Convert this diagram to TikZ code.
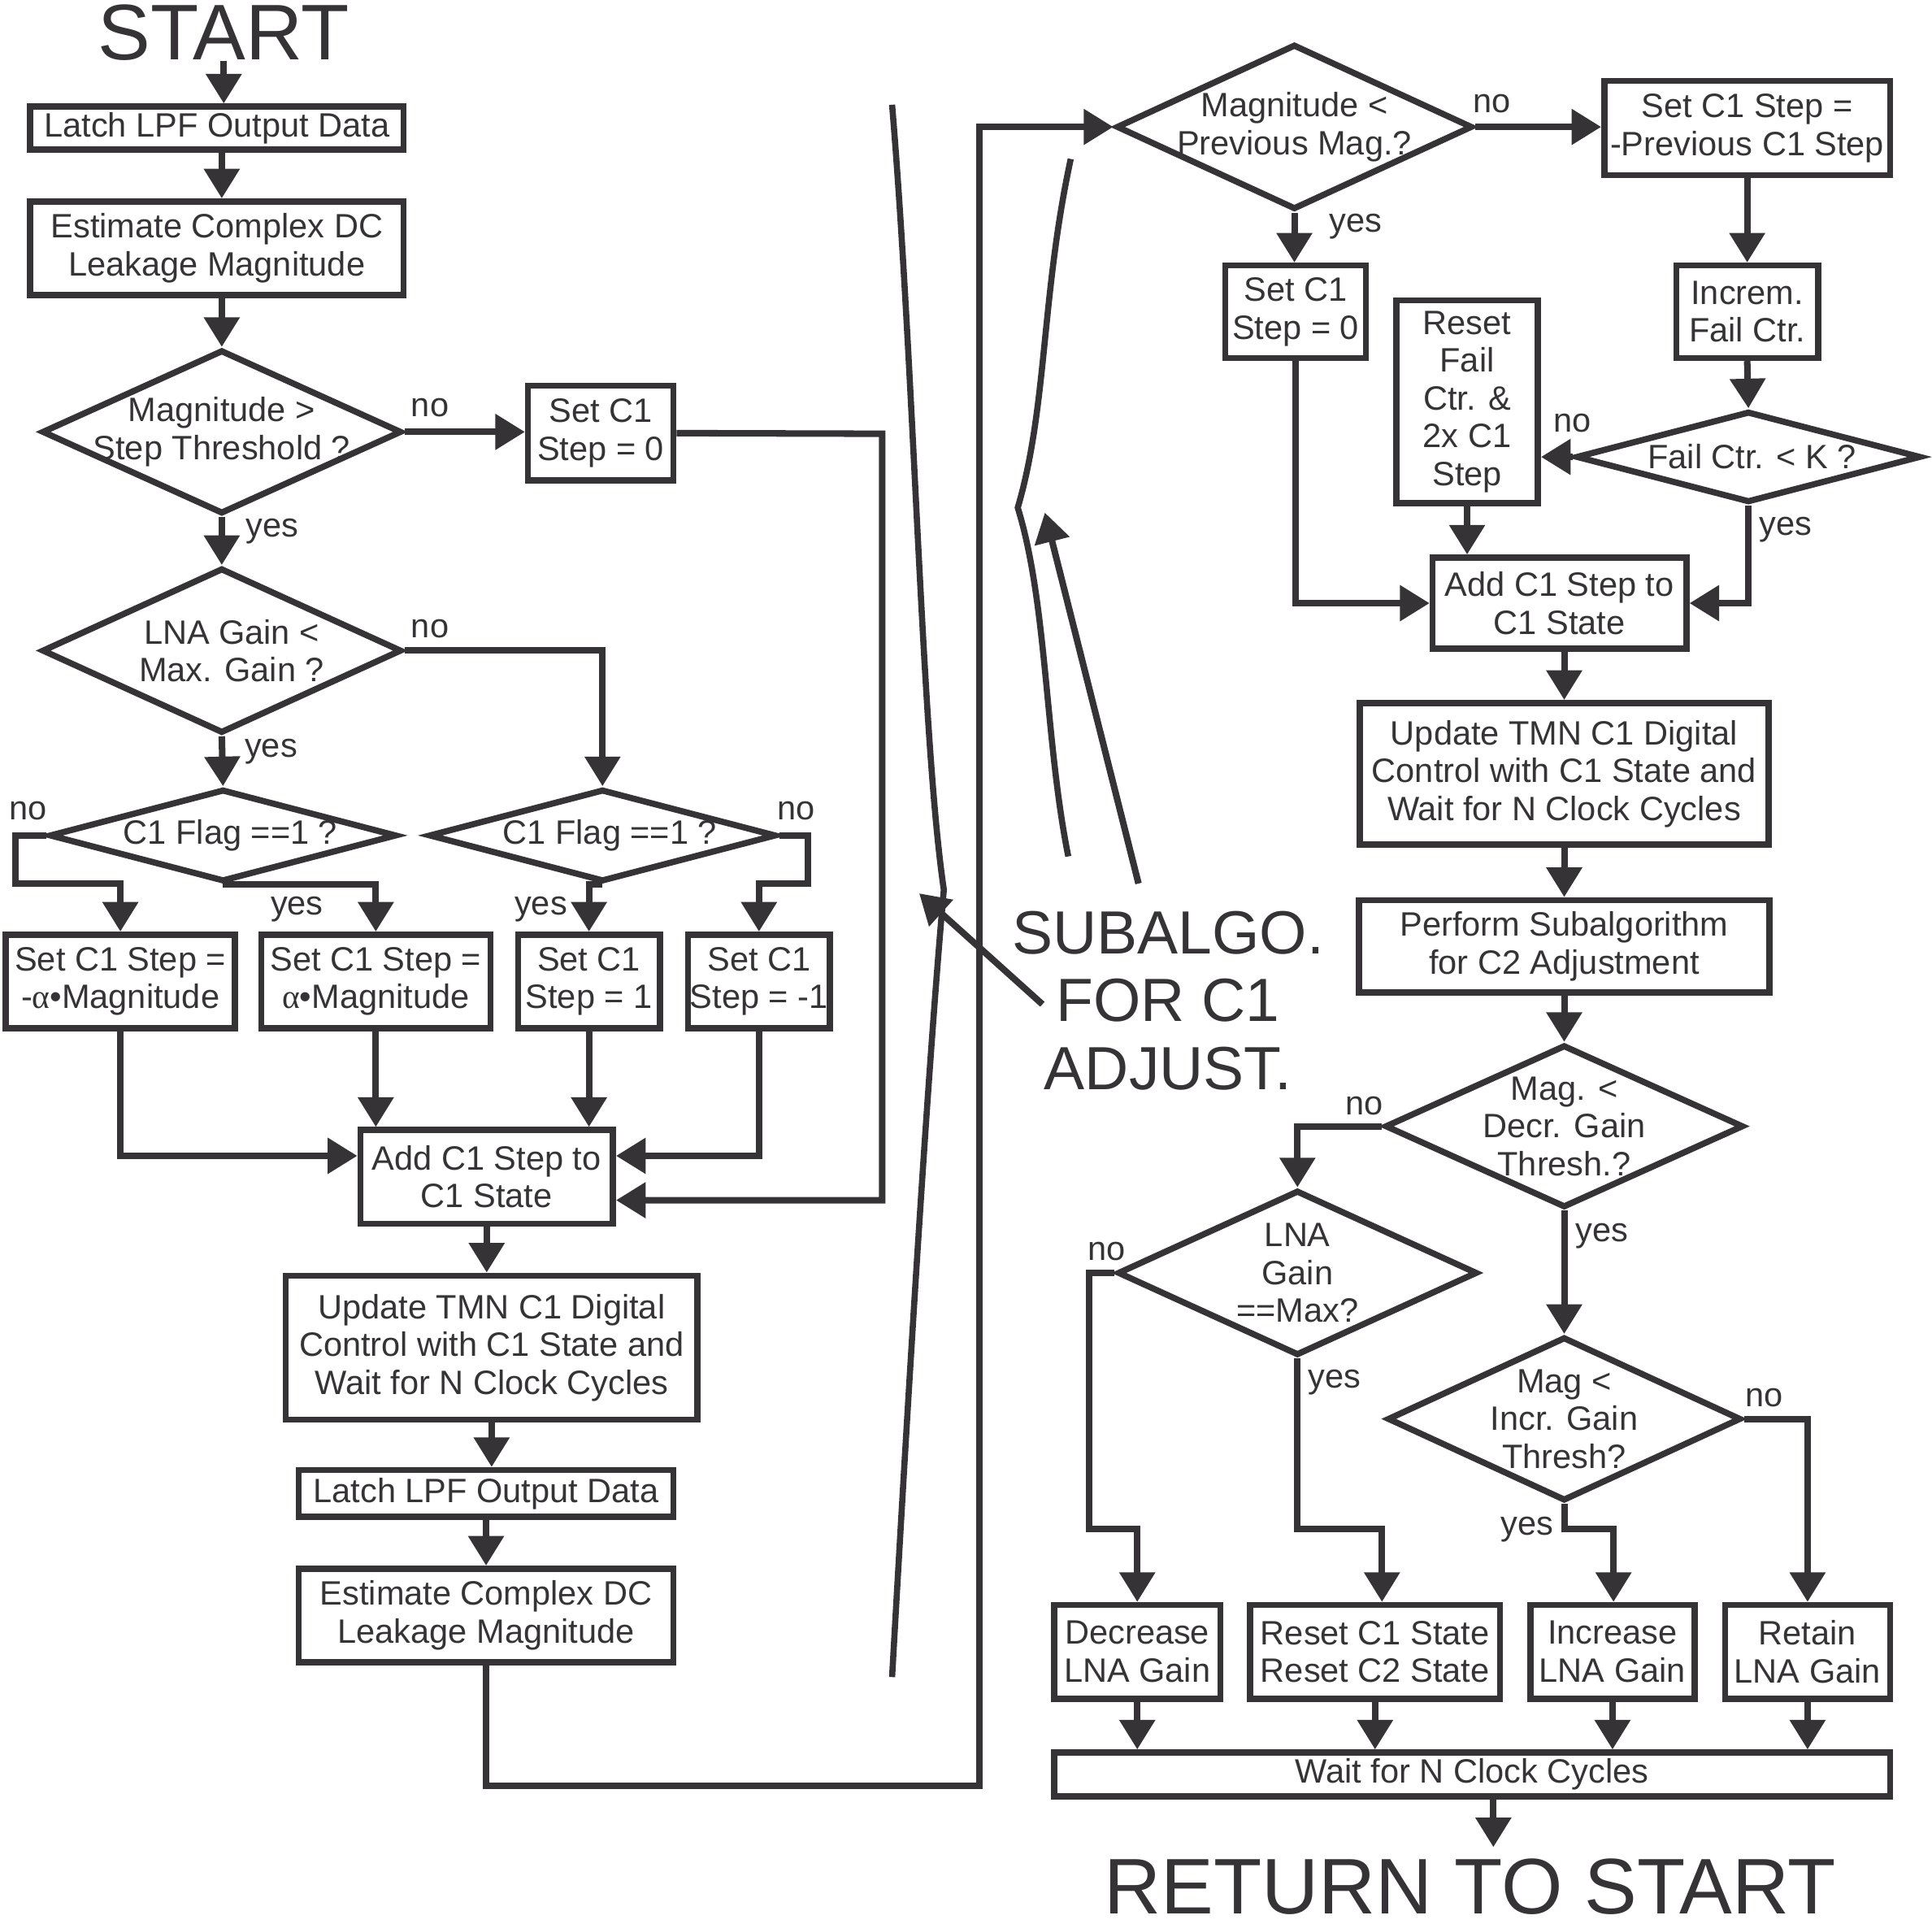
\documentclass[tikz,border=0pt]{standalone}
\usepackage{fontspec}
\setmainfont{Liberation Sans}
\newfontfamily\grk{Liberation Serif}
\usetikzlibrary{shapes.geometric,arrows.meta}
\definecolor{ink}{RGB}{53,51,53}
\tikzset{>={Triangle[length=24pt,width=28pt]}}
\tikzset{
  box/.style={draw,line width=5pt,inner sep=0pt,align=center,font=\fontsize{27.4}{30.7}\selectfont},
  sz/.style 2 args={minimum width=#1pt,minimum height=#2pt},
  decision/.style={draw,diamond,line width=5pt,inner sep=0pt},
  txt/.style={inner sep=0pt,align=center,font=\fontsize{27.4}{30.7}\selectfont},
  big/.style={inner sep=0pt,align=center,font=\fontsize{64}{70}\selectfont},
  note/.style={inner sep=0pt,align=center,font=\fontsize{49.5}{55}\selectfont},
  link/.style={line width=5.3pt,->},
  brace/.style={line width=5pt},
}

\begin{document}
\begin{tikzpicture}[x=1pt,y=-1pt,color=ink]
\useasboundingbox (0,0) rectangle (1568,1561);
\node[big] (start) at (181.6,26.5) {START};
\node[box,sz={303}{35}] (L1) at (176,104) {Latch LPF Output Data};
\node[box,sz={303}{76}] (L2) at (176,201.5) {Estimate Complex DC\\Leakage Magnitude};
\node[decision,sz={292}{133}] (d1) at (180,350.5) {};
\node[txt] (t1) at (d1) {Magnitude >\\Step Threshold ?};
\node[box,sz={118}{77}] (s0) at (487.5,351.5) {Set C1\\Step = 0};
\node[decision,sz={292}{134}] (d2) at (180,528) {};
\node[txt] (t2) at (188,528) {LNA Gain <\\Max. Gain ?};
\node[decision,sz={282}{75}] (d3) at (181,678) {};
\node[txt] (t3) at (187,678) {C1 Flag ==1 ?};
\node[decision,sz={282}{75}] (d4) at (489,678) {};
\node[txt] (t4) at (495,678) {C1 Flag ==1 ?};
\node[box,sz={186}{76}] (b1) at (97.7,796.5) {Set C1 Step =\\-{\grk α}•Magnitude};
\node[box,sz={186}{76}] (b2) at (305,796.5) {Set C1 Step =\\{\grk α}•Magnitude};
\node[box,sz={115}{76}] (b3) at (478,796.5) {Set C1\\Step = 1};
\node[box,sz={115}{76}] (b4) at (616,796.5) {Set C1\\Step = -1};
\node[box,sz={205}{76}] (a1) at (395,955) {Add C1 Step to\\C1 State};
\node[box,sz={334}{117}] (u1) at (399,1093.7) {Update TMN C1 Digital\\Control with C1 State and\\Wait for N Clock Cycles};
\node[box,sz={304}{38}] (L3) at (394.5,1212) {Latch LPF Output Data};
\node[box,sz={304}{76}] (L4) at (394.5,1311) {Estimate Complex DC\\Leakage Magnitude};
\node[txt] (n1) at (349,331) {no};
\node[txt] (y1) at (221,431) {yes};
\node[txt] (n2) at (349,510) {no};
\node[txt] (y2) at (220,610) {yes};
\node[txt] (n3) at (23,658) {no};
\node[txt] (y3) at (241,738) {yes};
\node[txt] (y4) at (439,738) {yes};
\node[txt] (n4) at (646,658) {no};
\coordinate (k1) at (716,352);
\coordinate (k2) at (795,1449);
\coordinate (k3) at (12.6,717);
\coordinate (k4) at (656,717);
\draw[link] (start.south) -- (start.south |- L1.north);
\draw[link] (d1.north |- L1.south) -- (d1.north |- L2.north);
\draw[link] (d1.north |- L2.south) -- (d1.north);
\draw[link] (d1.east) -- (d1.east -| s0.west);
\draw[link] (s0.east) -- (k1) |- ([yshift=-19pt]a1.east);
\draw[link] (d1.south) -- (d2.north);
\draw[link] (d2.east) -| (d4.north);
\draw[link] (d2.south) -- (d3.north);
\draw[link] (d3.west) -| (k3) -| (b1.north);
\draw[link] (d3.south) -| (b2.north);
\draw[link] (d4.south) -| (b3.north);
\draw[link] (d4.east) -| (k4) -| (b4.north);
\draw[link] (b1.south) |- ([yshift=17pt]a1.west);
\draw[link] (b2.south) -- (b2.south |- a1.north);
\draw[link] (b3.south) -- (b3.south |- a1.north);
\draw[link] (b4.south) |- ([yshift=17pt]a1.east);
\draw[link] (a1.south) -- (a1.south |- u1.north);
\draw[link] (u1.south) -- (u1.south |- L3.north);
\draw[link] (L3.south) -- (L3.south |- L4.north);
\draw[brace] (724,85) .. controls (742,300) and (748,600) .. (766,722) .. controls (752,880) and (736,1150) .. (724,1361);
\draw[brace] (869,129) .. controls (845,240) and (850,330) .. (826,412) .. controls (850,490) and (848,600) .. (867,695);
\node[note] (sub) at (948,812) {SUBALGO.\\FOR C1\\ADJUST.};
\coordinate (p1) at (846,815);
\coordinate (p2) at (746,725);
\coordinate (p3) at (924,717);
\coordinate (p4) at (848,416);
\draw[link] (p1) -- (p2);
\draw[link] (p3) -- (p4);
\node[decision,sz={289}{134}] (r1) at (1050.5,103) {};
\node[txt] (t5) at (r1) {Magnitude <\\Previous Mag.?};
\node[box,sz={232}{76.5}] (pv) at (1418,104) {Set C1 Step =\\-Previous C1 Step};
\node[box,sz={114}{75}] (z1) at (1051.5,253) {Set C1\\Step = 0};
\node[box,sz={115}{75}] (i1) at (1418,253) {Increm.\\Fail Ctr.};
\node[decision,sz={280}{74}] (f1) at (1419,370.8) {};
\node[txt] (t6) at (1422,370.8) {Fail Ctr. < K ?};
\node[box,sz={115}{164.5}] (rs) at (1190.7,326) {Reset\\Fail\\Ctr. \&\\2x C1\\Step};
\node[box,sz={206}{74}] (a2) at (1265.7,489.5) {Add C1 Step to\\C1 State};
\node[box,sz={332}{115}] (u2) at (1269.5,628) {Update TMN C1 Digital\\Control with C1 State and\\Wait for N Clock Cycles};
\node[box,sz={333}{75}] (pf) at (1269.5,768) {Perform Subalgorithm\\for C2 Adjustment};
\node[decision,sz={291}{132}] (r3) at (1269.5,914) {};
\node[txt] (t7) at (r3) {Mag. <\\Decr. Gain\\Thresh.?};
\node[decision,sz={292}{134}] (r4) at (1053,1033) {};
\node[txt] (t8) at (r4) {LNA\\Gain\\==Max?};
\node[decision,sz={287}{133}] (r5) at (1269.5,1151.5) {};
\node[txt] (t9) at (r5) {Mag <\\Incr. Gain\\Thresh?};
\node[box,sz={135}{76}] (e1) at (923,1340.5) {Decrease\\LNA Gain};
\node[box,sz={203}{76}] (e2) at (1116,1340.5) {Reset C1 State\\Reset C2 State};
\node[box,sz={133.5}{76}] (e3) at (1308.7,1340.5) {Increase\\LNA Gain};
\node[box,sz={134}{76}] (e4) at (1467,1340.5) {Retain\\LNA Gain};
\node[box,sz={678.5}{35.5}] (w1) at (1194.7,1440) {Wait for N Clock Cycles};
\node[big] (ret) at (1193,1531) {RETURN TO START};
\node[txt] (n5) at (1210.6,84) {no};
\node[txt] (y5) at (1100,183.5) {yes};
\node[txt] (n6) at (1276,343.5) {no};
\node[txt] (y6) at (1449,430) {yes};
\node[txt] (n7) at (1107,897.5) {no};
\node[txt] (y7) at (1300,1003) {yes};
\node[txt] (n8) at (898,1015.5) {no};
\node[txt] (y8) at (1083,1122) {yes};
\node[txt] (n9) at (1432,1134) {no};
\node[txt] (y9) at (1239.5,1241) {yes};
\coordinate (m1) at (884,1241);
\coordinate (m2) at (1121.6,1241);
\coordinate (m3) at (1309.5,1241);
\coordinate (m4) at (1212,1499);
\draw[link] (L4.south) |- (k2) |- (r1.west);
\draw[link] (r1.east) -- (r1.east -| pv.west);
\draw[link] (r1.south) -- (r1.south |- z1.north);
\draw[link] (pv.south) -- (pv.south |- i1.north);
\draw[link] (i1.south) -- (f1.north);
\draw[link] (f1.west) -- (f1.west -| rs.east);
\draw[link] (f1.south) |- (a2.east);
\draw[link] (z1.south) |- (a2.west);
\draw[link] (rs.south) -- (rs.south |- a2.north);
\draw[link] (u2.north |- a2.south) -- (u2.north);
\draw[link] (u2.south) -- (pf.north);
\draw[link] (pf.south) -- (r3.north);
\draw[link] (r3.west) -| (r4.north);
\draw[link] (r3.south) -- (r5.north);
\draw[link] (r4.west) -| (m1) -| (e1.north);
\draw[link] (r4.south) |- (m2) -- (m2 |- e2.north);
\draw[link] (r5.east) -| (e4.north);
\draw[link] (r5.south) |- (m3) -- (m3 |- e3.north);
\foreach \n in {e1,e2,e3,e4} \draw[link] (\n.south) -- (\n.south |- w1.north);
\draw[link] (w1.south -| m4) -- (m4);
\end{tikzpicture}
\end{document}
